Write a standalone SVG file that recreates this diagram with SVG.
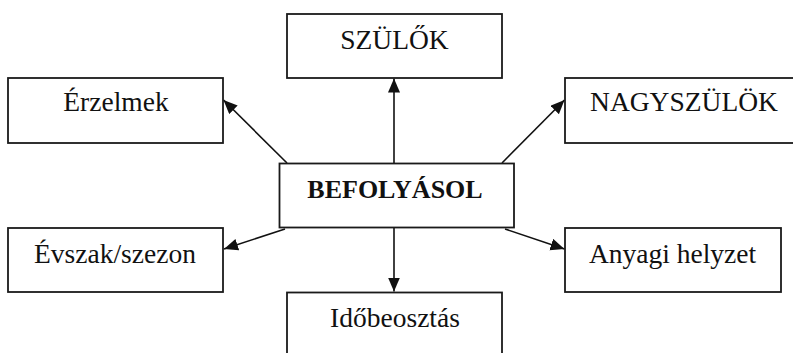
<svg xmlns="http://www.w3.org/2000/svg" width="793" height="353" viewBox="0 0 793 353">
<style>
.box{fill:#fff;stroke:#1a1a1a;stroke-width:1.8}
.t{font-family:"Liberation Serif","Times New Roman",serif;font-size:27.5px;fill:#111;text-anchor:middle}
.b{font-weight:bold;font-size:26px}
.c{stroke:#111;stroke-width:1.6;fill:none;marker-end:url(#ah)}
</style>
<defs>
<marker id="ah" markerUnits="userSpaceOnUse" markerWidth="15" markerHeight="13" refX="14" refY="6" orient="auto">
<path d="M0,0 L14,6 L0,12 z" fill="#111"/>
</marker>
</defs>
<rect width="793" height="353" fill="#fff"/>
<g id="connectors">
<line class="c" x1="287" y1="163" x2="223.5" y2="100"/>
<line class="c" x1="394" y1="163" x2="394" y2="78.5"/>
<line class="c" x1="502" y1="163" x2="564.5" y2="100"/>
<line class="c" x1="285" y1="229" x2="224" y2="249"/>
<line class="c" x1="505" y1="229" x2="564.5" y2="249"/>
<line class="c" x1="394" y1="227" x2="394" y2="291.5"/>
</g>
<g id="szulok"><rect class="box" x="287" y="14" width="215" height="64"/><text class="t" x="394.5" y="49">SZÜLŐK</text></g>
<g id="erzelmek"><rect class="box" x="8" y="78" width="215" height="65"/><text class="t" x="116" y="111">Érzelmek</text></g>
<g id="nagyszulok"><rect class="box" x="565" y="78" width="240" height="65"/><text class="t" x="684" y="110.5">NAGYSZÜLÖK</text></g>
<g id="befolyasol"><rect class="box" x="279.5" y="163.5" width="234.5" height="64"/><text class="t b" x="395" y="198">BEFOLYÁSOL</text></g>
<g id="evszak"><rect class="box" x="8" y="228" width="215" height="64"/><text class="t" x="115" y="263">Évszak/szezon</text></g>
<g id="anyagi"><rect class="box" x="565" y="228" width="216" height="64"/><text class="t" x="672.5" y="263">Anyagi helyzet</text></g>
<g id="idobeosztas"><rect class="box" x="287" y="292.5" width="215" height="80"/><text class="t" x="395" y="327">Időbeosztás</text></g>
</svg>
